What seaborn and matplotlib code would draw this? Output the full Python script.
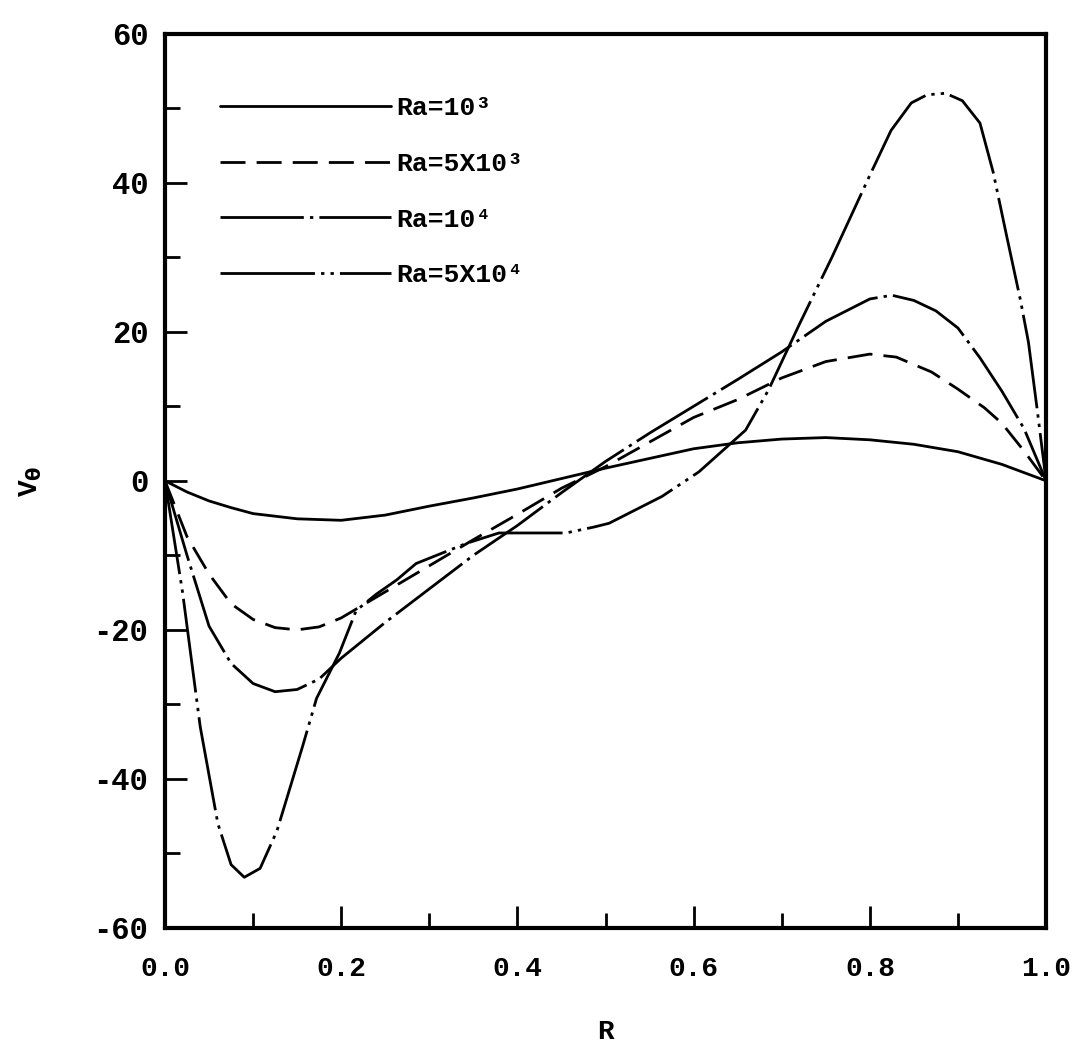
import numpy as np
import pandas as pd
import matplotlib
matplotlib.use("Agg")
import matplotlib.pyplot as plt
import seaborn as sns

# ---- data ----
labels = ["Ra=10³", "Ra=5X10³", "Ra=10⁴", "Ra=5X10⁴"]

r_1e3 = [0, .025, .05, .075, .1, .15, .2, .25, .3, .35, .4, .45, .5, .55, .6, .65, .7, .75, .8, .85, .9, .95, 1.0]
v_1e3 = [0, -1.5, -2.7, -3.6, -4.4, -5.1, -5.3, -4.6, -3.4, -2.3, -1.1, 0.3, 1.7, 3.0, 4.3, 5.1, 5.6, 5.8, 5.5, 4.9, 3.9, 2.2, 0]

r_5e3 = [0, .025, .05, .075, .1, .125, .15, .175, .2, .25, .3, .35, .4, .45, .5, .55, .6, .65,
         .7, .75, .8, .83, .87, .9, .93, .95, .975, 1.0]
v_5e3 = [0, -7.5, -12.5, -16.5, -18.6, -19.7, -20.0, -19.6, -18.4, -14.9, -11.4, -7.9, -4.5, -1.0, 1.9,
         5.2, 8.5, 10.9, 13.8, 16.0, 17.0, 16.6, 14.6, 12.3, 9.8, 7.7, 4.0, 0]

r_1e4 = [0, .025, .05, .075, .1, .125, .15, .175, .2, .25, .3, .35, .4, .45, .5, .55, .6, .65,
         .7, .75, .8, .825, .85, .875, .9, .925, .95, .975, 1.0]
v_1e4 = [0, -10.0, -19.5, -24.5, -27.2, -28.3, -28.0, -26.6, -23.8, -19.0, -14.5, -10.0, -6.0, -1.6, 2.6,
         6.4, 10.0, 13.6, 17.3, 21.4, 24.4, 24.9, 24.2, 22.8, 20.5, 16.5, 12.0, 7.0, 0]

r_5e4 = [0, .02, .04, .06, .075, .09, .108, .127, .156, .172, .198, .217, .24, .263, .285, .342, .379,
         .455, .487, .504, .564, .606, .659, .685, .72, .757, .8, .824, .847, .865, .886, .905, .925,
         .94, .955, .971, .98, .99, 1.0]
v_5e4 = [0, -15, -33, -46, -51.5, -53.2, -52.0, -47.0, -35.7, -29.2, -23.1, -17.4, -15.2, -13.3, -11.1,
         -8.4, -7.0, -7.0, -6.2, -5.7, -2.1, 1.2, 6.8, 12.2, 21.0, 30.0, 41.0, 47.0, 50.7, 51.8, 52.0, 51.0,
         48.0, 41.4, 33.0, 24.2, 18.6, 9.5, 0]

x_ticks = [0.0, 0.2, 0.4, 0.6, 0.8, 1.0]
y_ticks = [-60, -40, -20, 0, 20, 40, 60]

frames = []
for lab, r, v in zip(labels, [r_1e3, r_5e3, r_1e4, r_5e4], [v_1e3, v_5e3, v_1e4, v_5e4]):
    frames.append(pd.DataFrame({"R": r, "V": v, "case": lab}))
df = pd.concat(frames, ignore_index=True)

sns.set_theme(style="white")
plt.rcParams["font.family"] = ["Liberation Mono", "DejaVu Sans Mono", "DejaVu Sans"]
plt.rcParams["font.weight"] = "bold"
plt.rcParams["text.color"] = "black"
plt.rcParams["axes.labelcolor"] = "black"
plt.rcParams["axes.labelweight"] = "bold"
plt.rcParams["mathtext.default"] = "bf"

fig = plt.figure(figsize=(10.84, 10.45), dpi=100)
ax = fig.add_axes([0.1522, 0.112, 0.8128, 0.8558])

dash_map = {
    labels[0]: "",
    labels[1]: (9, 4),
    labels[2]: (30, 2.2, 1.2, 2.2),
    labels[3]: (34, 2.2, 1.2, 2.2, 1.2, 2.2),
}
sns.lineplot(data=df, x="R", y="V", style="case", dashes=dash_map, color="black",
             linewidth=2.0, estimator=None, sort=False, ax=ax, legend=True)

ax.set_xlim(0, 1.0)
ax.set_ylim(-60, 60)
ax.set_xticks(x_ticks)
ax.set_xticklabels([f"{t:.1f}" for t in x_ticks])
ax.set_yticks(y_ticks)
ax.set_yticklabels([str(t) for t in y_ticks])
ax.set_xticks(np.arange(0.1, 1.0, 0.2), minor=True)
ax.set_yticks(np.arange(-50, 60, 20), minor=True)
ax.tick_params(axis="both", which="both", bottom=True, left=True, top=False, right=False)
ax.tick_params(axis="both", which="major", direction="in", length=16, width=2,
               colors="black")
ax.tick_params(axis="x", which="major", pad=20, labelsize=20)
ax.tick_params(axis="y", which="major", pad=12, labelsize=22)
ax.tick_params(axis="both", which="minor", direction="in", length=11, width=2, colors="black")
for s in ax.spines.values():
    s.set_linewidth(3)
    s.set_color("black")

ax.set_xlabel("R", fontsize=20, labelpad=27)
ax.set_ylabel(r"V$_\theta$", fontsize=20, labelpad=36)

handles, labs = ax.get_legend_handles_labels()
leg = ax.legend(handles, labs, loc="upper left", bbox_to_anchor=(0.062, 0.93), frameon=False,
                fontsize=19, handlelength=6.5, handletextpad=0.2, labelspacing=1.2,
                borderpad=0, borderaxespad=0)
for t in leg.get_texts():
    t.set_fontweight("bold")
    t.set_color("black")

fig.savefig("out.png", dpi=100)
